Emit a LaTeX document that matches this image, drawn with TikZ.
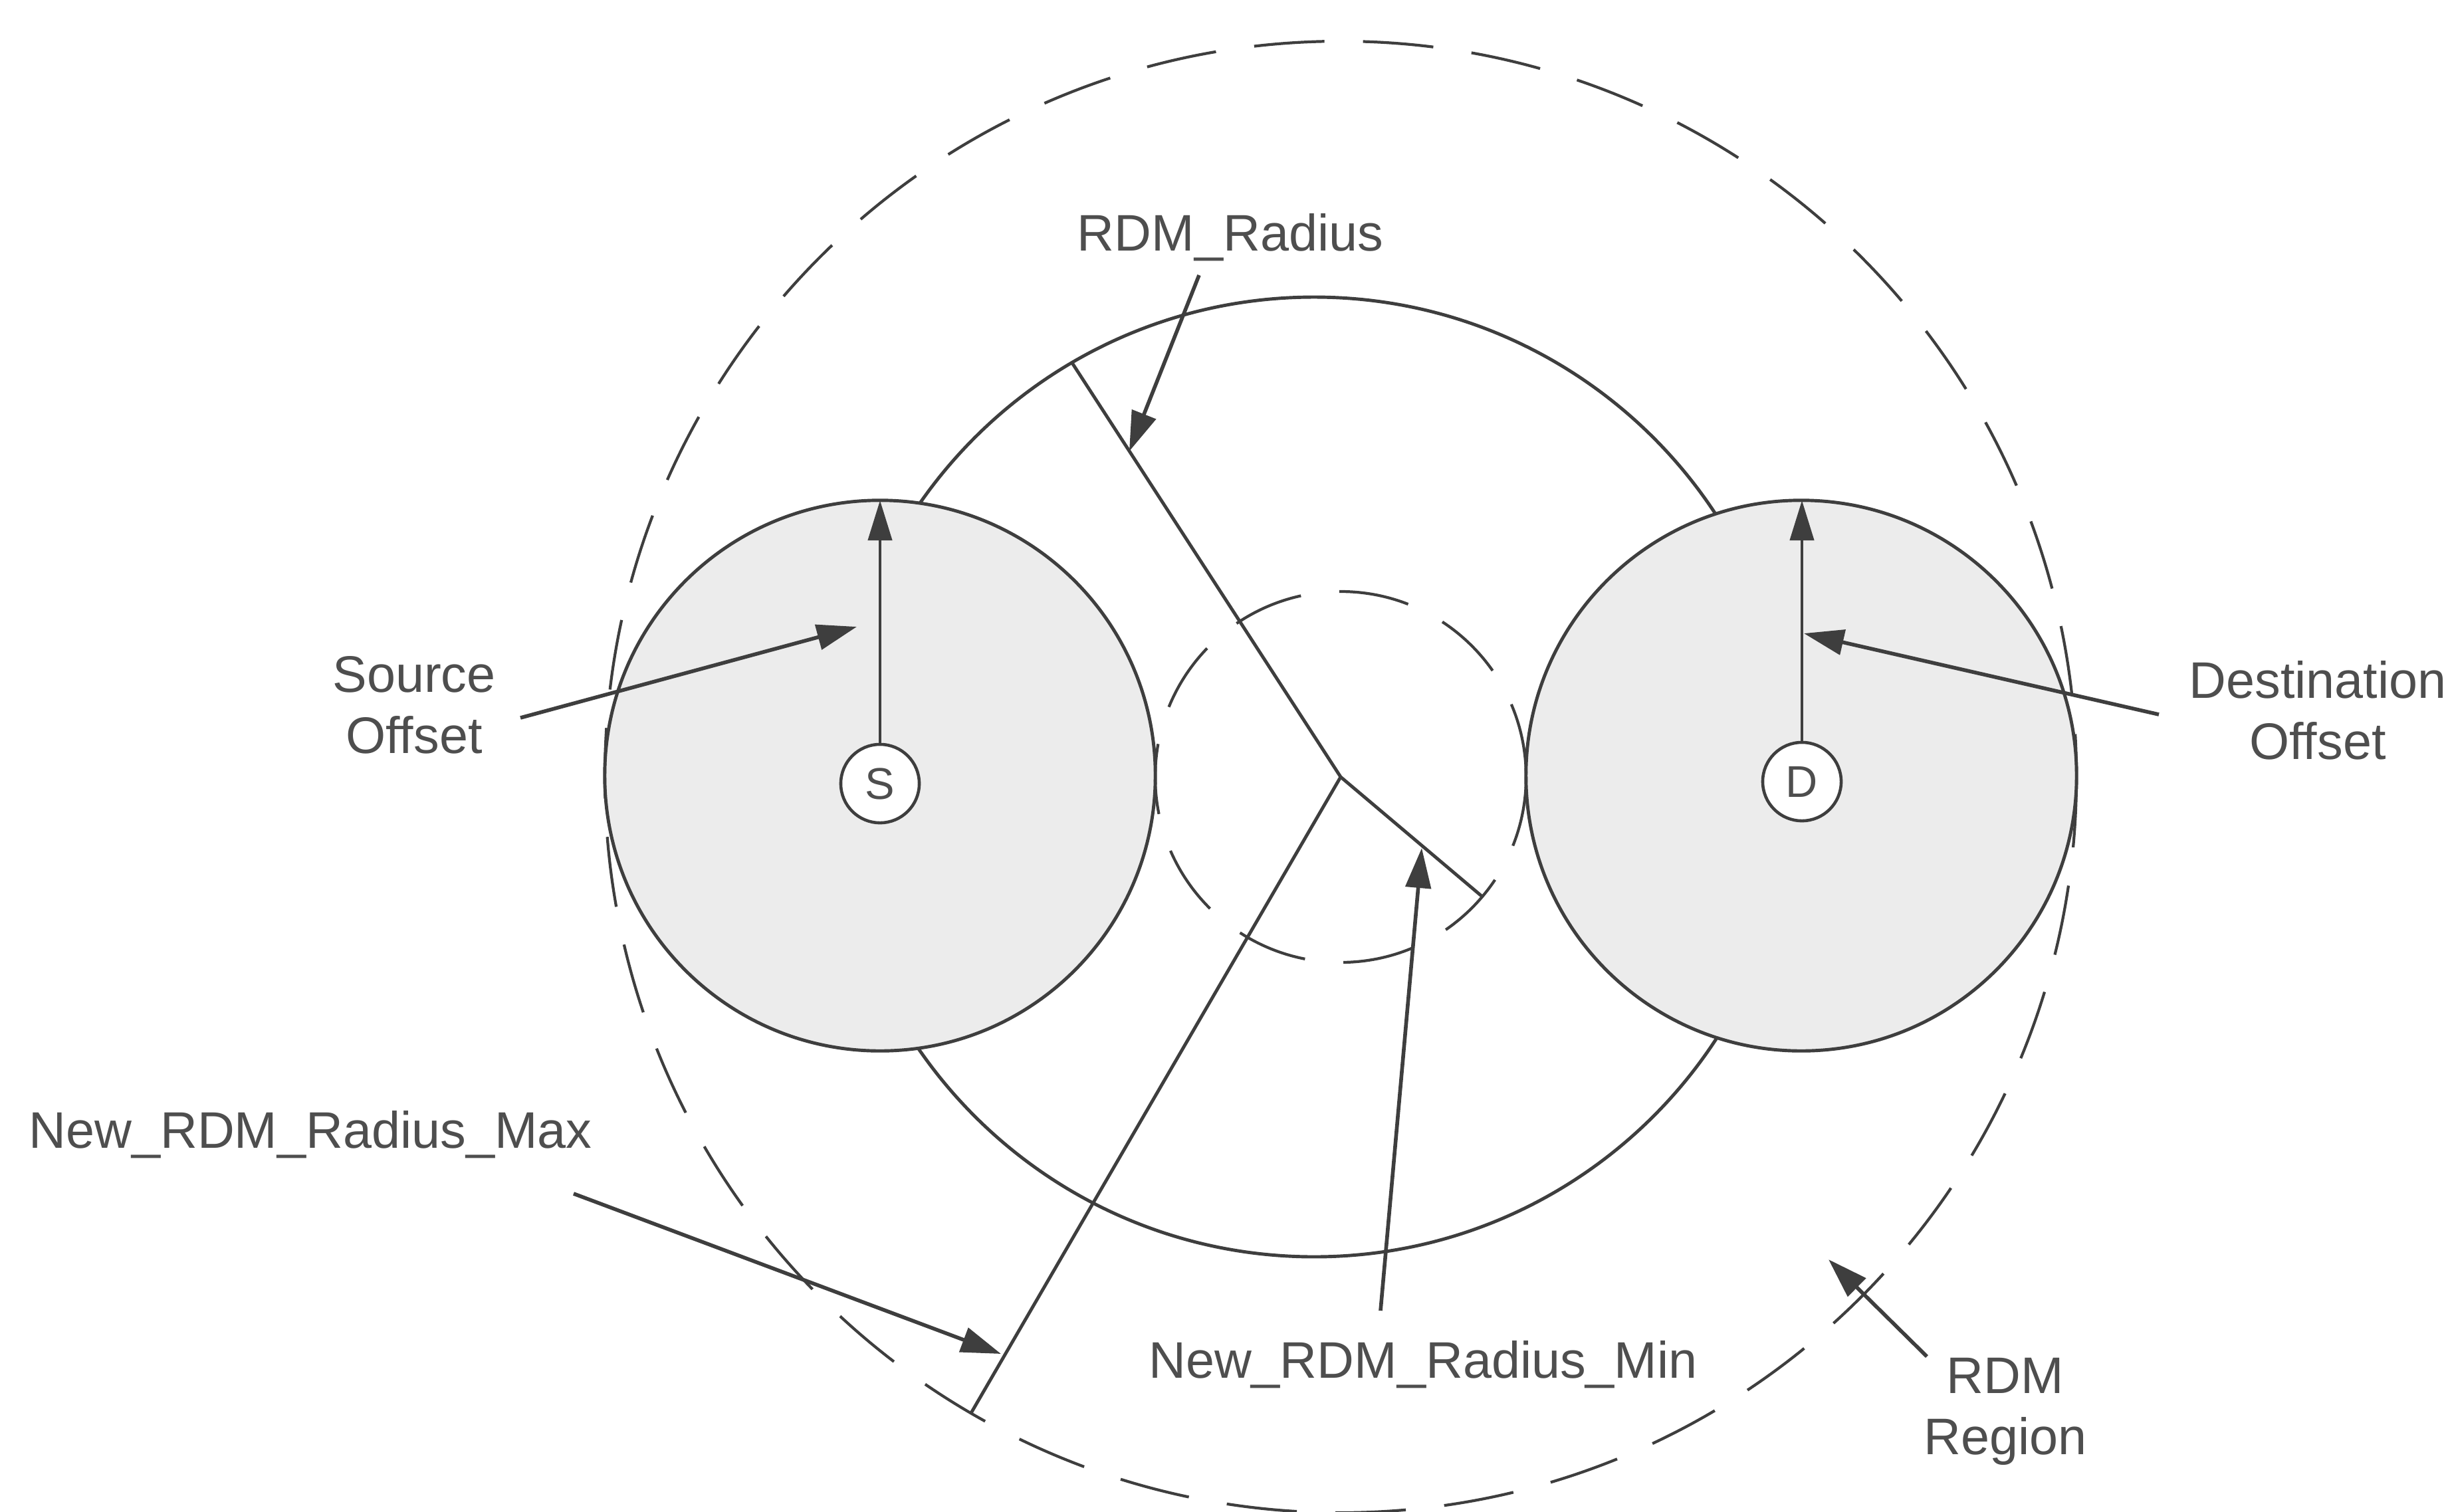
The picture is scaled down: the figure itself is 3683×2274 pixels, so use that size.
\documentclass[tikz,border=0pt]{standalone}
\usepackage{fontspec}
\setmainfont{Liberation Sans}
\usetikzlibrary{arrows.meta}

\definecolor{ink}{RGB}{62,62,62}
\definecolor{txt}{RGB}{78,78,78}
\definecolor{disc}{RGB}{236,236,236}

\begin{document}
\begin{tikzpicture}[x=0.01cm, y=-0.01cm,
  outline/.style={draw=ink, line width=1.4pt},
  bound/.style={draw=ink, line width=1.2pt, dash pattern=on 1.06cm off 0.58cm},
  ptr/.style={draw=ink, line width=1.6pt, -{Triangle[length=6mm,width=3.8mm]}},
  thinptr/.style={draw=ink, line width=1.2pt, -{Triangle[length=6mm,width=3.6mm]}},
  lbl/.style={text=txt, font=\fontsize{22pt}{26pt}\selectfont, align=center, anchor=base, inner sep=0pt},
  endpt/.style={circle, draw=ink, line width=1.3pt, fill=white, minimum size=1.18cm, inner sep=0pt,
                font=\fontsize{19pt}{22pt}\selectfont, text=txt},
  zone/.style={circle, draw=ink, line width=1.4pt, fill=disc, minimum size=8.28cm, inner sep=0pt}
]
\useasboundingbox (0,0) rectangle (3683,2274);

% centres
\coordinate (O)  at (2017,1169);
\coordinate (MC) at (1977,1169);

% RDM radius circle (partly hidden by the offset discs)
\draw[outline] (MC) circle[radius=722];

% source and destination offset discs
\node[zone] (Szone) at (1324,1167) {};
\node[zone] (Dzone) at (2710,1167) {};

% RDM region boundary and minimum radius
\draw[bound] (O) circle[radius=1107];
\draw[bound] (O) circle[radius=279];

% sector radii
\coordinate (Rend)  at (1613,546);
\coordinate (MnEnd) at (2230,1349);
\coordinate (MxEnd) at (1461,2126);
\draw[outline] (Rend) -- (O) -- (MnEnd);
\draw[outline] (O) -- (MxEnd);

% source / destination points with their offset radii
\node[endpt] (S) at (1324,1179) {S};
\node[endpt] (D) at (2711,1176) {D};
\coordinate (Stop) at (1324,753);
\coordinate (Dtop) at (2711,753);
\draw[thinptr] (S.north) -- (Stop);
\draw[thinptr] (D.north) -- (Dtop);

% labels (base = baseline of the last line)
\node[lbl] (lRad)  at (1851,377)  {RDM\_Radius};
\node[lbl] (lSrc)  at (623,1133)  {Source\\Offset};
\node[lbl] (lDst)  at (3487,1142) {Destination\\Offset};
\node[lbl] (lMax)  at (467,1727)  {New\_RDM\_Radius\_Max};
\node[lbl] (lMin)  at (2141,2073) {New\_RDM\_Radius\_Min};
\node[lbl] (lReg)  at (3017,2188) {RDM\\Region};

% leader arrows
\coordinate (aRad0) at (1804,414);   \coordinate (aRad1) at (1699,679);
\coordinate (aSrc0) at (783,1080);   \coordinate (aSrc1) at (1289,943);
\coordinate (aDst0) at (3248,1075);  \coordinate (aDst1) at (2714,953);
\coordinate (aMax0) at (863,1796);   \coordinate (aMax1) at (1506,2037);
\coordinate (aMin0) at (2077,1972);  \coordinate (aMin1) at (2139,1276);
\coordinate (aReg0) at (2899,2041);  \coordinate (aReg1) at (2751,1895);

\draw[ptr] (aRad0) -- (aRad1);
\draw[ptr] (aSrc0) -- (aSrc1);
\draw[ptr] (aDst0) -- (aDst1);
\draw[ptr] (aMax0) -- (aMax1);
\draw[ptr] (aMin0) -- (aMin1);
\draw[ptr] (aReg0) -- (aReg1);
\end{tikzpicture}
\end{document}
